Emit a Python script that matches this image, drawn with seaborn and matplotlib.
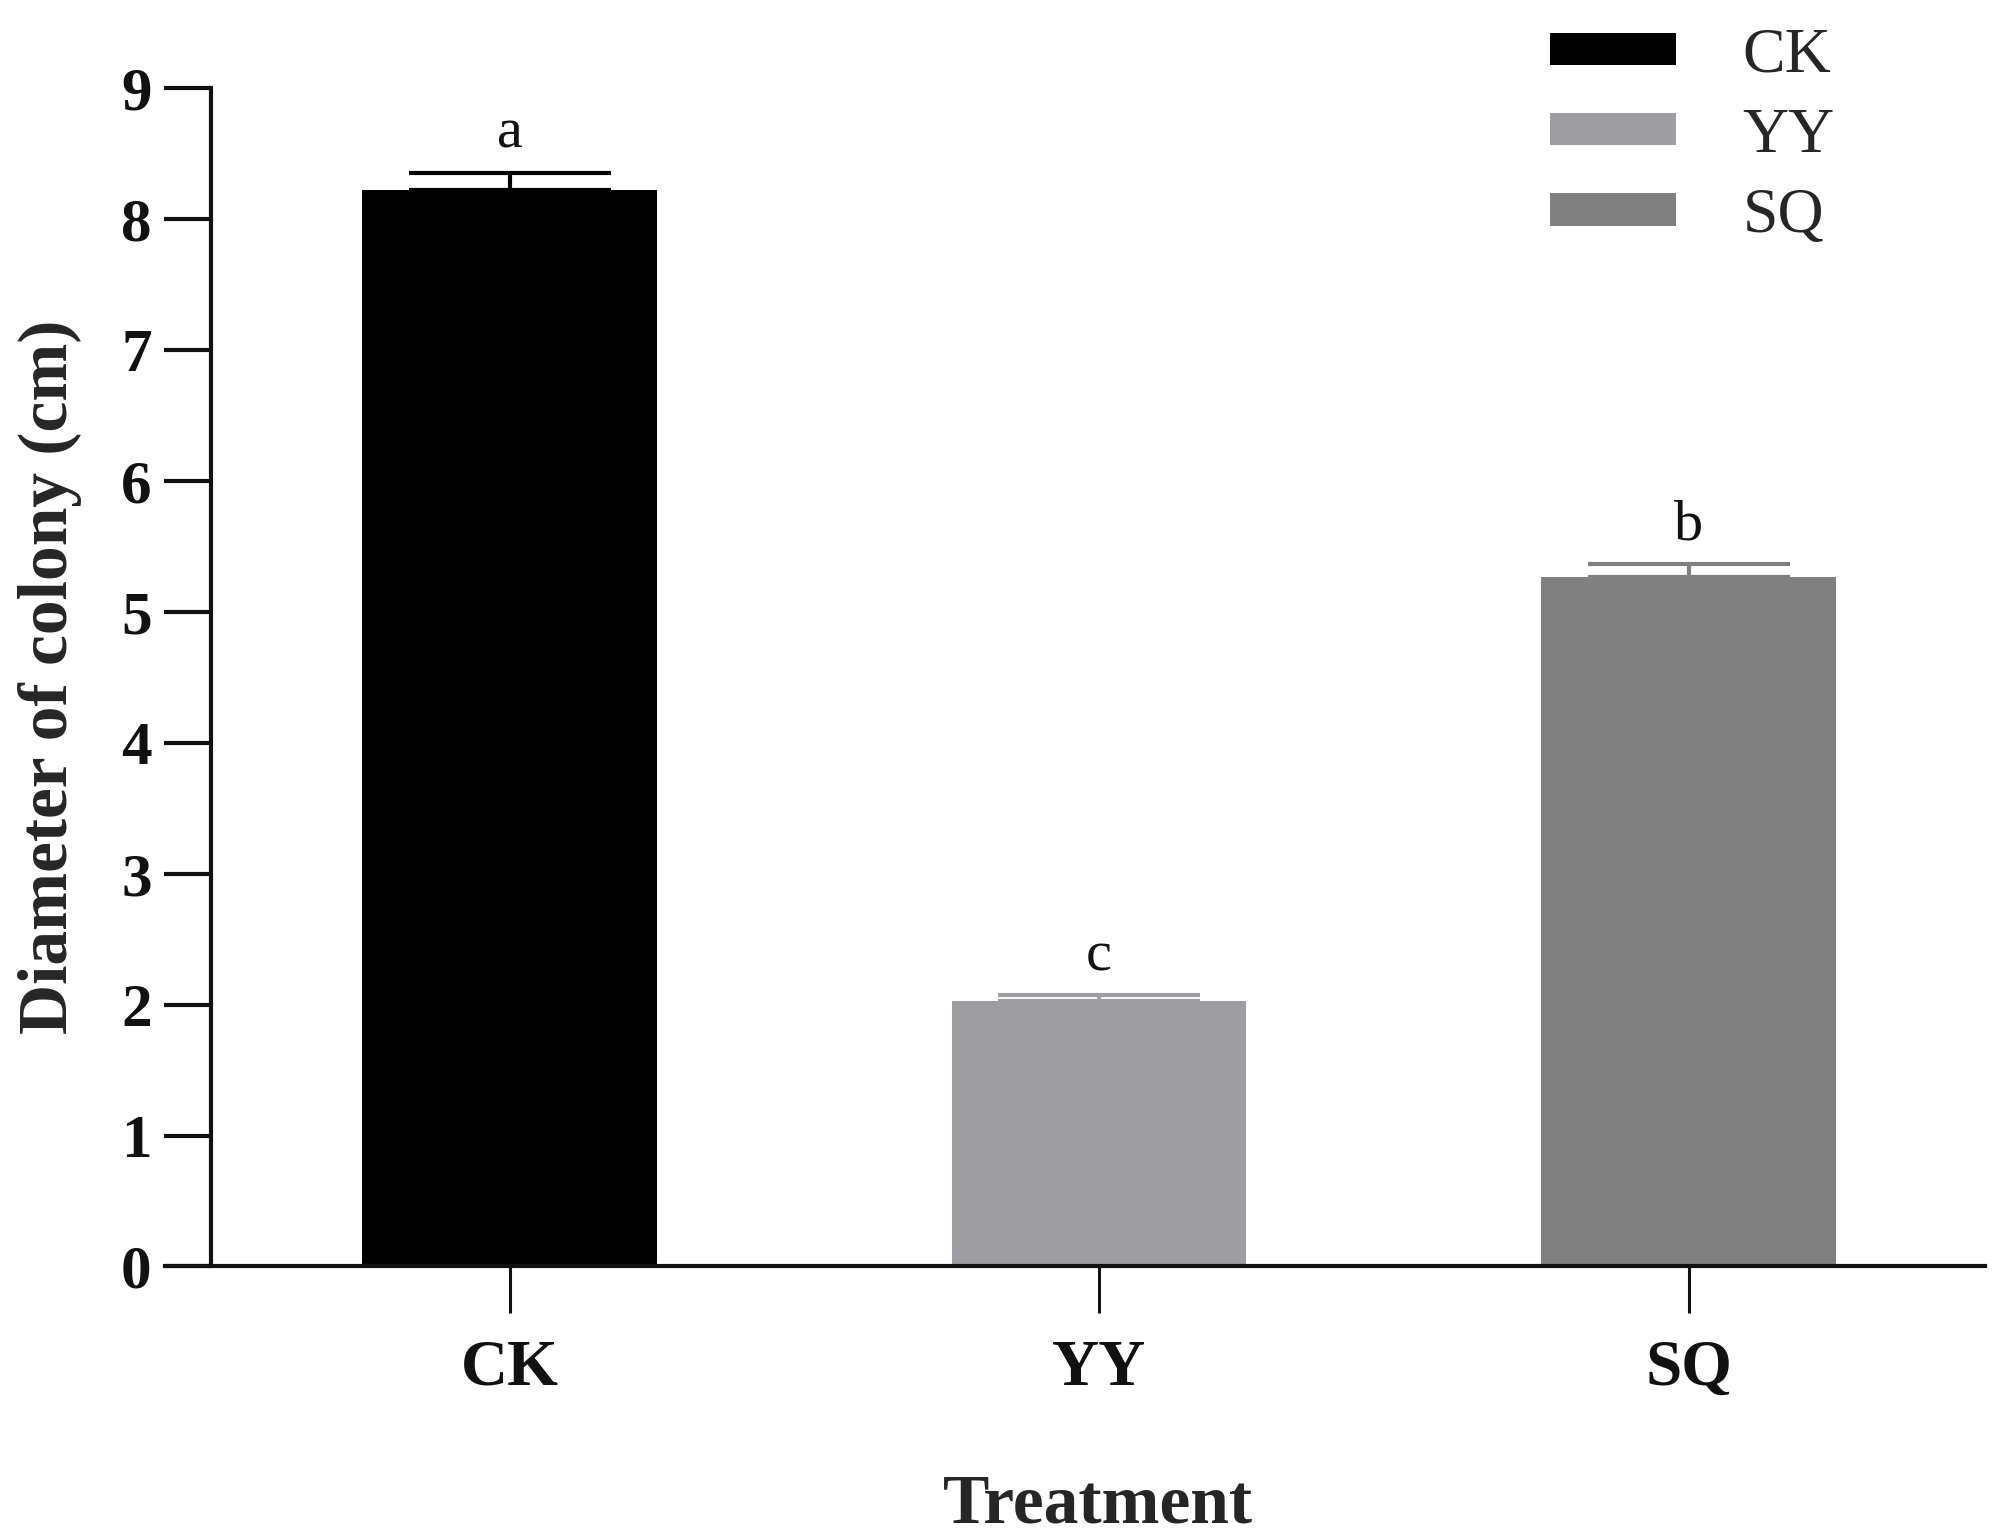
import matplotlib
matplotlib.use("Agg")
import matplotlib.pyplot as plt
import seaborn as sns
import pandas as pd
import numpy as np

treatments = ["CK", "YY", "SQ"]
diameters = [8.22, 2.03, 5.26]
errors = [0.13, 0.04, 0.10]
letters = ["a", "c", "b"]
colors = ["#000000", "#9e9da2", "#808080"]
yticks = [0, 1, 2, 3, 4, 5, 6, 7, 8, 9]

sns.set_style("ticks")
plt.rcParams['font.family'] = ['Liberation Serif', 'DejaVu Serif']

df = pd.DataFrame({"Treatment": treatments, "Diameter": diameters})

fig = plt.figure(figsize=(19.95, 15.37), dpi=100)
ax = fig.add_axes([0.106, 0.176, 0.889, 0.767])

sns.barplot(data=df, x="Treatment", y="Diameter", hue="Treatment",
            palette=colors, width=0.5, dodge=False, ax=ax, legend=True,
            saturation=1, linewidth=0)

xs = np.arange(len(treatments))
for i, (x, y, e, c) in enumerate(zip(xs, diameters, errors, colors)):
    ax.errorbar([x], [y], yerr=[[0], [e]], fmt="none", ecolor=c,
                elinewidth=3, capsize=73, capthick=3)
    ax.text(x, y + e + 0.1, letters[i], ha="center", va="bottom",
            fontsize=42, color="#111111")

ax.set_xlim(-0.506, 2.503)
ax.set_ylim(0, 9)
ax.set_yticks(yticks)
ax.set_yticklabels([str(t) for t in yticks], fontsize=44, fontweight="bold")
ax.set_xticks(xs)
ax.set_xticklabels(treatments, fontsize=47, fontweight="bold")
ax.set_xlabel("Treatment", fontsize=50, fontweight="bold", labelpad=54)
ax.set_ylabel("Diameter of colony (cm)", fontsize=50, fontweight="bold", labelpad=28)

for s in ["top", "right"]:
    ax.spines[s].set_visible(False)
for s in ["left", "bottom"]:
    ax.spines[s].set_linewidth(3.0)
    ax.spines[s].set_color("#111111")
ax.spines["bottom"].set_bounds(-0.506 - 47/590.5, 2.503)
ax.tick_params(axis="y", length=34, width=3.0, pad=9, colors="#111111")
ax.tick_params(axis="x", length=34, width=2.2, pad=18, colors="#111111")

handles, labels = ax.get_legend_handles_labels()
leg = ax.legend(handles, labels, loc="upper left", bbox_to_anchor=(0.748, 1.0195),
                bbox_transform=fig.transFigure, frameon=False, fontsize=46,
                handlelength=1.97, handleheight=0.4, handletextpad=1.05,
                labelspacing=0.35)

fig.savefig("out.png", dpi=100, facecolor="white")
